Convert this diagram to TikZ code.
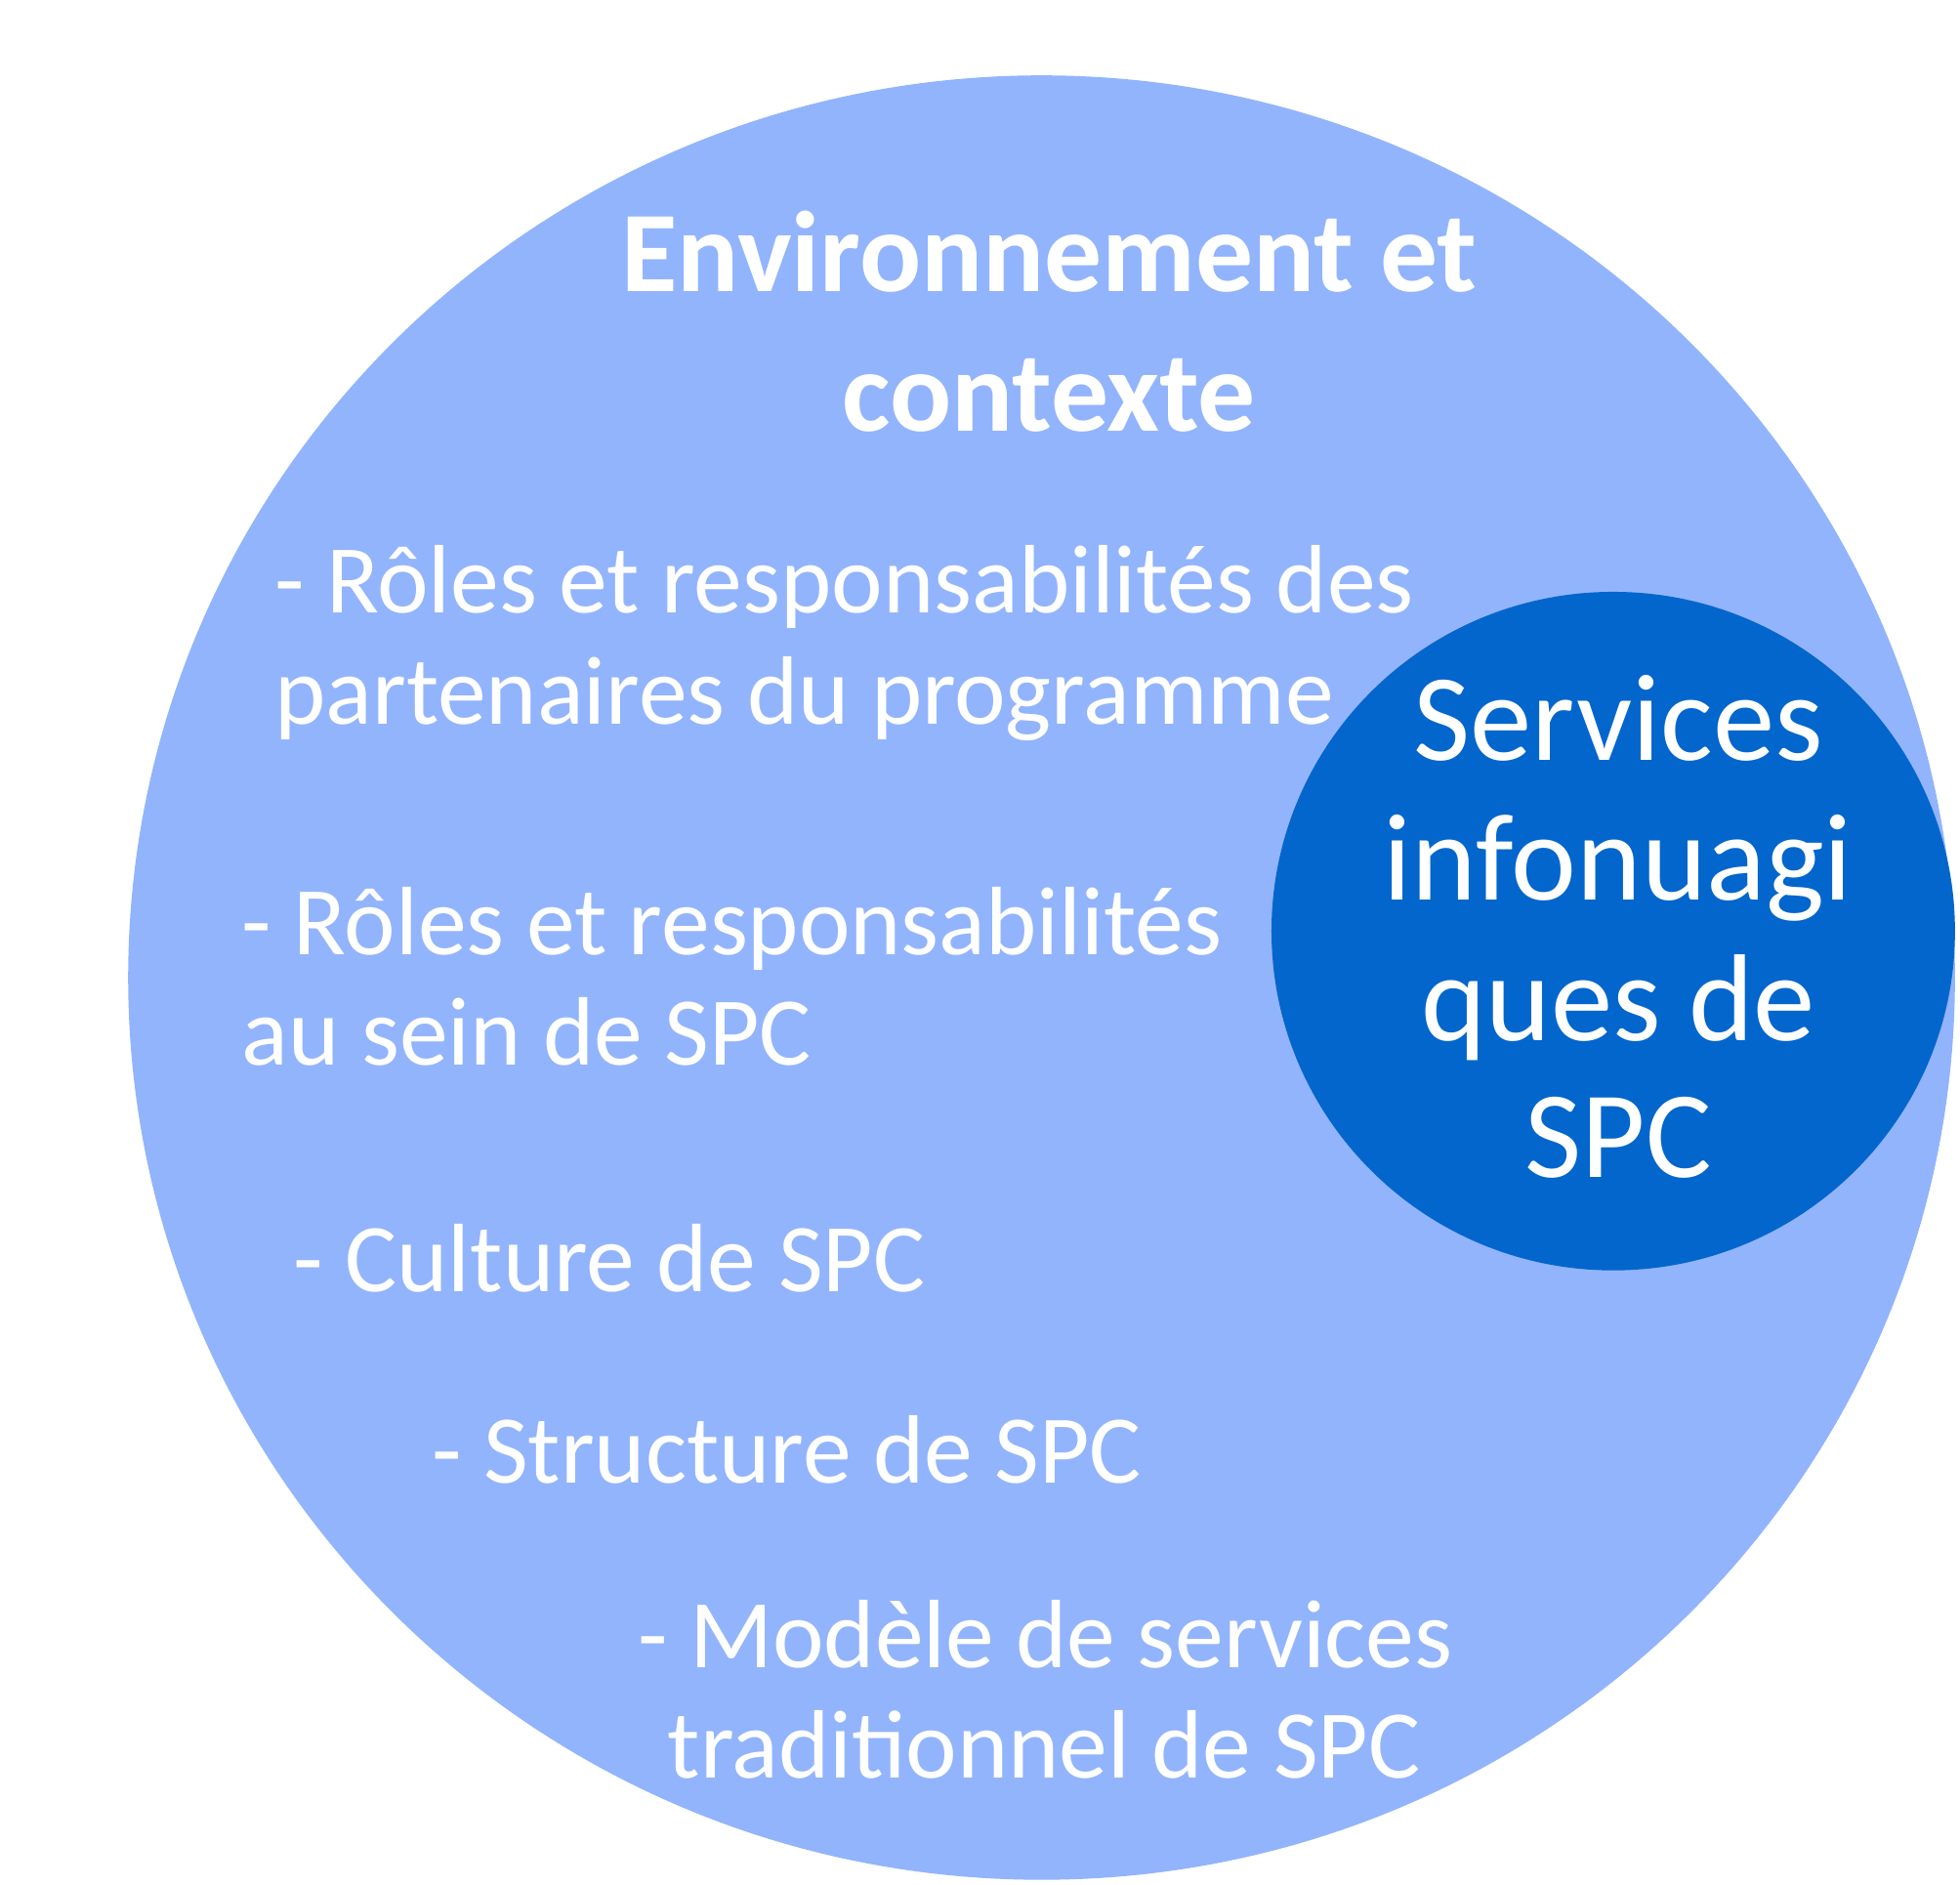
\documentclass[tikz,border=0pt]{standalone}
\usepackage{fontspec}
\setmainfont{Carlito}
\definecolor{outerc}{HTML}{92B4FC}
\definecolor{innerc}{HTML}{0366CC}
\begin{document}
\begin{tikzpicture}[x=0.01cm,y=-0.01cm,
  item/.style={text=white,font=\fontsize{22}{26}\selectfont,inner sep=0pt},
  title/.style={text=white,font=\fontsize{26}{31}\selectfont\bfseries,inner sep=0pt},
  inner/.style={text=white,font=\fontsize{28}{33}\selectfont,inner sep=0pt}]
\useasboundingbox (0,0) rectangle (1560,1500);
\fill[outerc] (829,778) ellipse [x radius=727, y radius=718];
\fill[innerc] (1284,741) ellipse [x radius=272, y radius=270];
\node[title,anchor=base] (t1) at (835,232) {Environnement et};
\node[title,anchor=base] (t2) at (835,343) {contexte};
\node[item,anchor=base west] (a1) at (218,488) {- Rôles et responsabilités des};
\node[item,anchor=base west] (a2) at (218,576) {partenaires du programme};
\node[item,anchor=base west] (b1) at (192,760) {- Rôles et responsabilités};
\node[item,anchor=base west] (b2) at (192,848) {au sein de SPC};
\node[item,anchor=base west] (c1) at (233,1028) {- Culture de SPC};
\node[item,anchor=base west] (d1) at (343,1180) {- Structure de SPC};
\node[item,anchor=base] (e1) at (832,1327) {- Modèle de services};
\node[item,anchor=base] (e2) at (831,1415) {traditionnel de SPC};
\node[inner,anchor=base] (s1) at (1288,605) {Services};
\node[inner,anchor=base] (s2) at (1288,716) {infonuagi};
\node[inner,anchor=base] (s3) at (1288,828) {ques de};
\node[inner,anchor=base] (s4) at (1288,937) {SPC};
\end{tikzpicture}
\end{document}
